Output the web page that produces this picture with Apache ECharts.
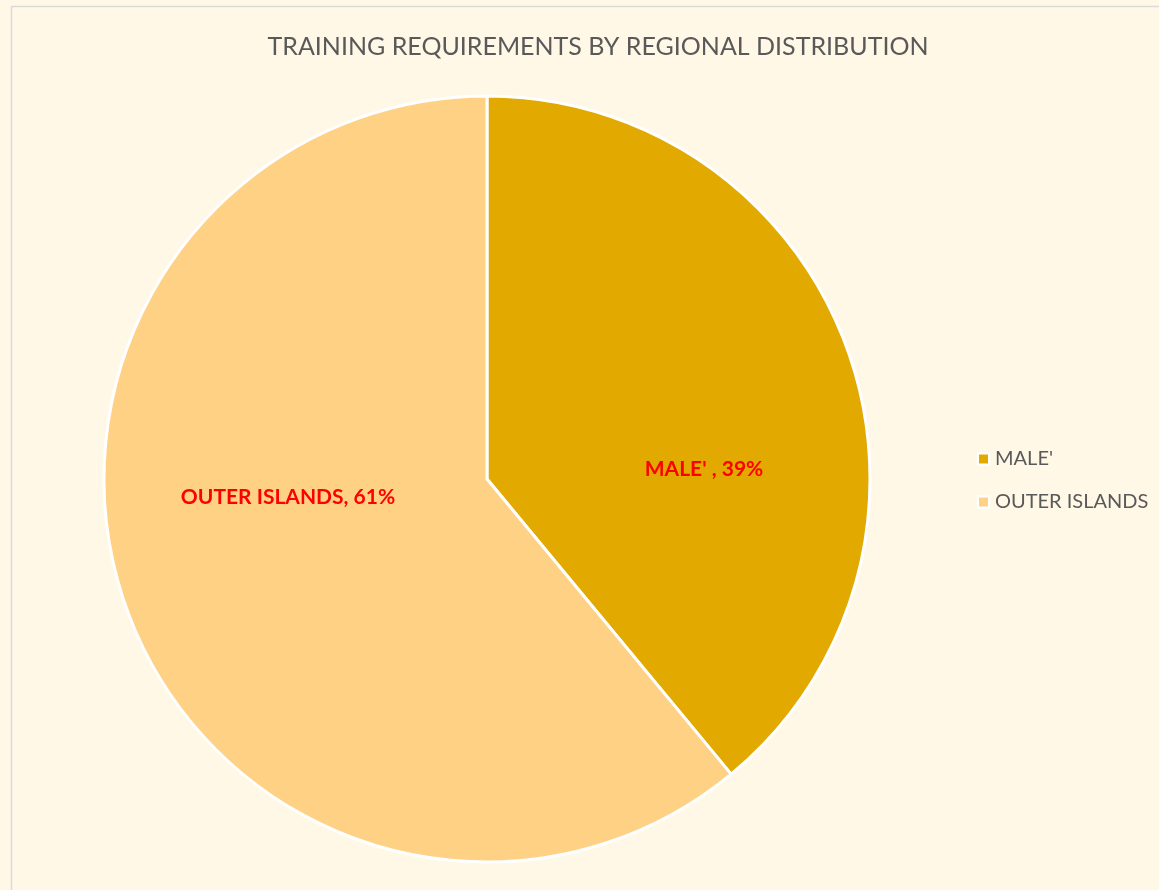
<!DOCTYPE html>
<html>
<head>
<meta charset="utf-8">
<style>
    html, body { margin: 0; padding: 0; background: #FFF8E7; }
    #chart { width: 1159px; height: 890px; }
</style>
<script src="https://cdn.jsdelivr.net/npm/echarts@6/dist/echarts.min.js"></script>
</head>
<body>
<div id="chart"></div>
<script>
    // data
    const regions = ["MALE'", 'OUTER ISLANDS'];
    const shares = [39, 61];
    const labelText = ["MALE' , 39%", 'OUTER ISLANDS, 61%'];
    const colors = ['#E2AA00', '#FFD185'];

    const chart = echarts.init(document.getElementById('chart'));

    const option = {
        backgroundColor: '#FFF8E7',
        animation: false,
        title: {
            text: 'TRAINING REQUIREMENTS BY REGIONAL DISTRIBUTION',
            left: 593,
            textAlign: 'center',
            top: 29,
            textStyle: {
                fontFamily: 'Lato',
                fontWeight: 'normal',
                fontSize: 25,
                color: '#595959'
            }
        },
        legend: {
            orient: 'vertical',
            left: 972,
            top: 444,
            itemWidth: 11,
            itemHeight: 11,
            itemGap: 23,
            icon: 'rect',
            itemStyle: { borderColor: '#fff', borderWidth: 2 },
            textStyle: { fontFamily: 'Lato', fontSize: 20, color: '#595959', padding: [0, 0, 0, 1] },
            data: regions
        },
        graphic: [{
            type: 'rect',
            shape: { x: 11.5, y: 6.5, width: 1200, height: 1000 },
            style: { fill: 'none', stroke: '#D9D9D9', lineWidth: 1.5 }
        }],
        series: [{
            type: 'pie',
            center: [487, 479],
            radius: 383,
            startAngle: 90,
            clockwise: true,
            label: {
                position: 'inside',
                fontFamily: 'Lato',
                fontWeight: 'bold',
                fontSize: 21,
                color: '#FF0000',
                formatter: (p) => labelText[p.dataIndex]
            },
            labelLayout: (p) => p.dataIndex === 0 ? { dx: 34, dy: 56 } : { dx: -16, dy: -48 },
            itemStyle: { borderColor: '#FFFFFF', borderWidth: 3 },
            emphasis: { disabled: true },
            data: regions.map((name, i) => ({
                name,
                value: shares[i],
                itemStyle: { color: colors[i] }
            }))
        }]
    };

    chart.setOption(option);
</script>
</body>
</html>
